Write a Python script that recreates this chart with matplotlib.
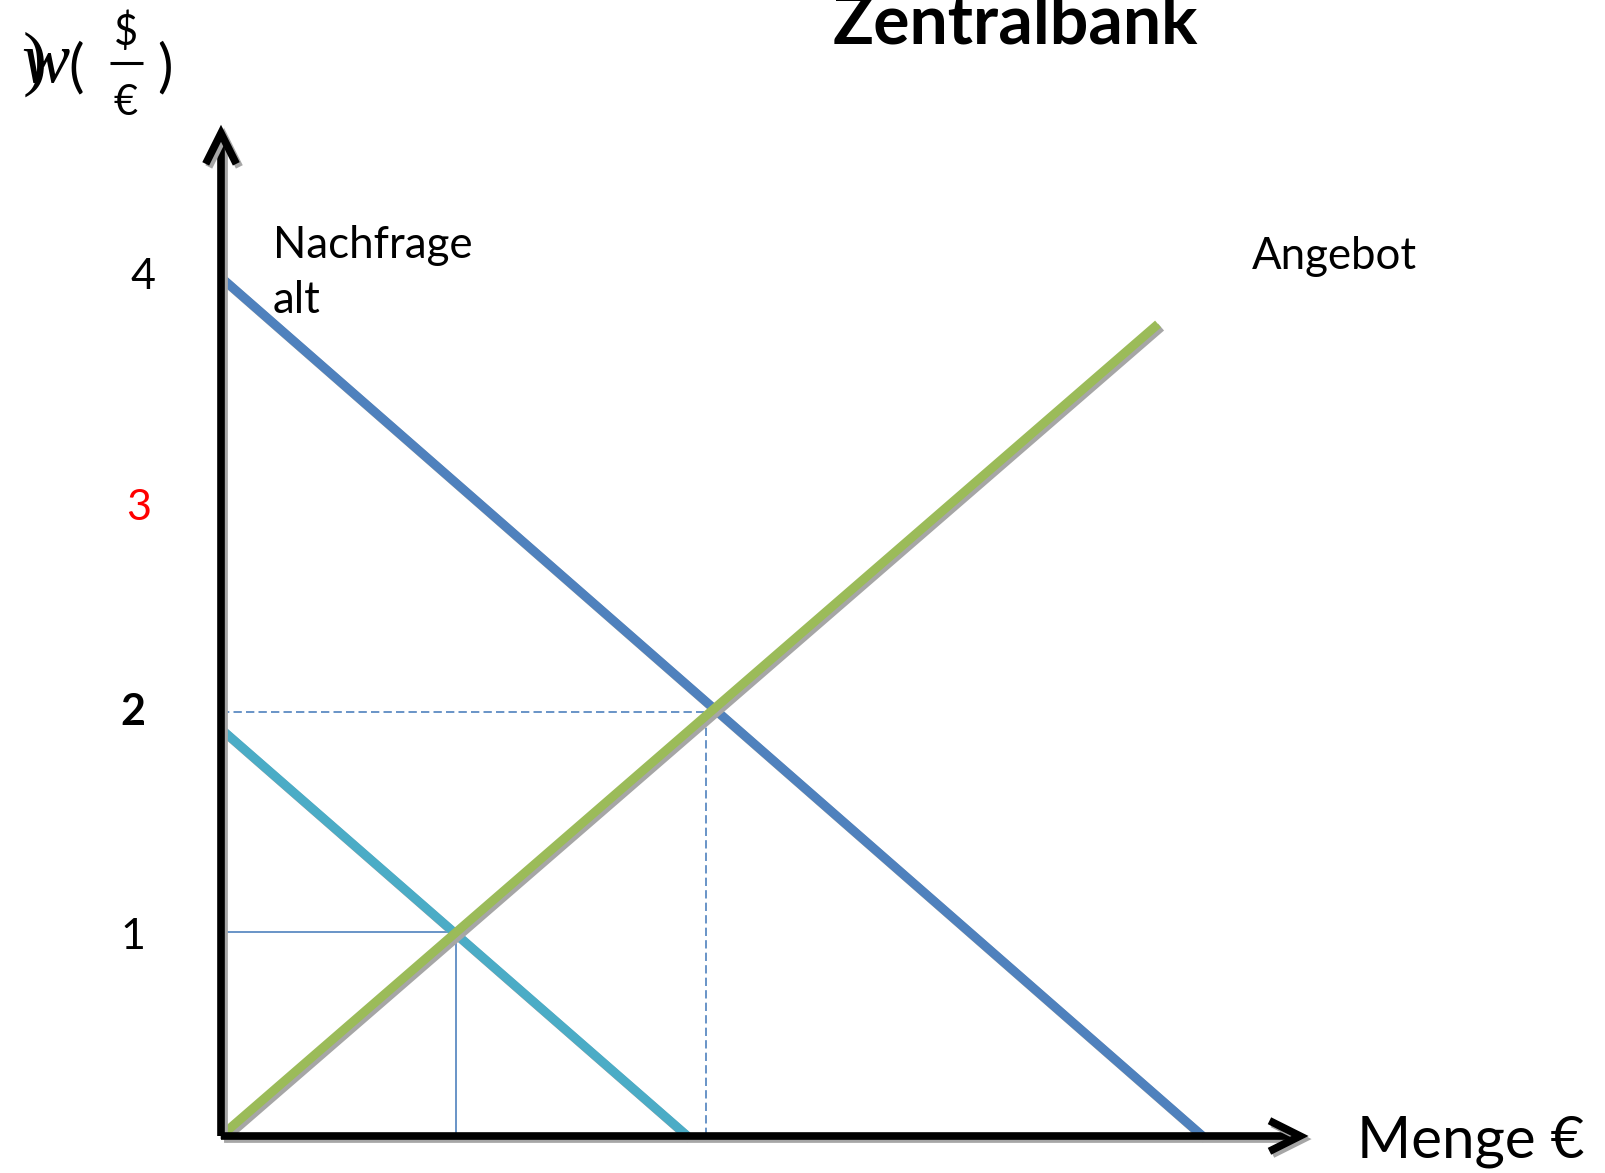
import matplotlib
matplotlib.use('Agg')
from matplotlib import pyplot as plt
from matplotlib import patheffects as pe

# values (price units on y, quantity units on x)
demandOld = ([0, 4.63], [4.05, 0])
demandNew = ([0, 2.20], [1.92, 0])
supply = ([0, 4.42], [0, 3.83])
equilOld = (2.29, 2.0)
equilNew = (1.11, 0.96)
tickValues = [4.05, 2.96, 2.0, 0.94]
tickLabels = ['4', '3', '2', '1']
tickColors = ['black', 'red', 'black', 'black']
tickWeights = ['normal', 'normal', 'bold', 'normal']
tickX = [-0.37, -0.39, -0.415, -0.415]
axisTop = 4.77
axisRight = 5.13

PX = 212.0
X0, Y0 = 221.0, 1136.0
W, H = 1606, 1173
FONT = ['Lato', 'DejaVu Sans']

plt.rcParams['mathtext.fontset'] = 'custom'
plt.rcParams['mathtext.it'] = 'Liberation Serif:italic'
plt.rcParams['mathtext.rm'] = 'Liberation Serif'


def shadow(off=2.2):
    return [pe.SimpleLineShadow(offset=(off, -off), shadow_color='#A6A6A6', alpha=1), pe.Normal()]


def px(x, y):
    # pixel position in the picture -> data coordinates
    return (x - X0) / PX, (Y0 - y) / PX


fig = plt.figure(figsize=(W / 100, H / 100), dpi=100)
ax = fig.add_axes([0, 0, 1, 1])
ax.set_xlim(-X0 / PX, (W - X0) / PX)
ax.set_ylim(-(H - Y0) / PX, Y0 / PX)
ax.axis('off')

# axes with arrows
for end in [(0, axisTop), (axisRight, 0)]:
    ann = ax.annotate('', xy=end, xytext=(0, 0),
                      arrowprops=dict(arrowstyle='->,head_length=22,head_width=11', lw=5.5,
                                      color='black', shrinkA=0, shrinkB=0, mutation_scale=1,
                                      joinstyle='miter', capstyle='butt'))
    ann.arrow_patch.set_path_effects(shadow())

# helper lines at the equilibria
ax.plot([0, equilOld[0]], [equilOld[1], equilOld[1]], color='#4F81BD', lw=1.2, ls=(0, (5, 2.5)))
ax.plot([equilOld[0], equilOld[0]], [0, equilOld[1]], color='#4F81BD', lw=1.2, ls=(0, (5, 2.5)))
ax.plot([0, equilNew[0]], [equilNew[1], equilNew[1]], color='#4F81BD', lw=1.2)
ax.plot([equilNew[0], equilNew[0]], [0, equilNew[1]], color='#4F81BD', lw=1.2)

# demand and supply
ax.plot(*demandOld, color='#4F81BD', lw=6.5, solid_capstyle='butt', path_effects=shadow())
ax.plot(*demandNew, color='#4BACC6', lw=6.5, solid_capstyle='butt', path_effects=shadow())
ax.plot(*supply, color='#9BBB59', lw=6.5, solid_capstyle='butt', path_effects=shadow())

# tick labels
for v, lab, c, wgt, xx in zip(tickValues, tickLabels, tickColors, tickWeights, tickX):
    ax.text(xx, v, lab, color=c, fontweight=wgt, fontsize=31, family=FONT, ha='center', va='center')

# texts
ax.text(*px(1015, 43), 'Zentralbank', fontsize=49, fontweight='bold', family=FONT,
        ha='center', va='baseline')
ax.text(*px(273, 258), 'Nachfrage', fontsize=31.5, family=FONT, ha='left', va='baseline')
ax.text(*px(273, 313), 'alt', fontsize=31.5, family=FONT, ha='left', va='baseline')
ax.text(*px(1252, 269), 'Angebot', fontsize=31.5, family=FONT, ha='left', va='baseline')
ax.text(*px(1357, 1158), 'Menge €', fontsize=42, family=FONT, ha='left', va='baseline')

# price label w($/€)
ax.text(*px(22, 82), r'$)\!\!\!\mathit{w}$', fontsize=52, ha='left', va='baseline')
ax.text(*px(76, 69), '(', fontsize=42, family=FONT, ha='center', va='center')
ax.text(*px(165, 69), ')', fontsize=42, family=FONT, ha='center', va='center')
ax.text(*px(126, 45), '$', fontsize=30, family=FONT, ha='center', va='baseline')
ax.text(*px(126, 115), '€', fontsize=30, family=FONT, ha='center', va='baseline')
bx0, by = px(110, 63)
bx1, _ = px(143, 63)
ax.plot([bx0, bx1], [by, by], color='black', lw=2.2, solid_capstyle='butt')

fig.savefig('out.png', dpi=100)
